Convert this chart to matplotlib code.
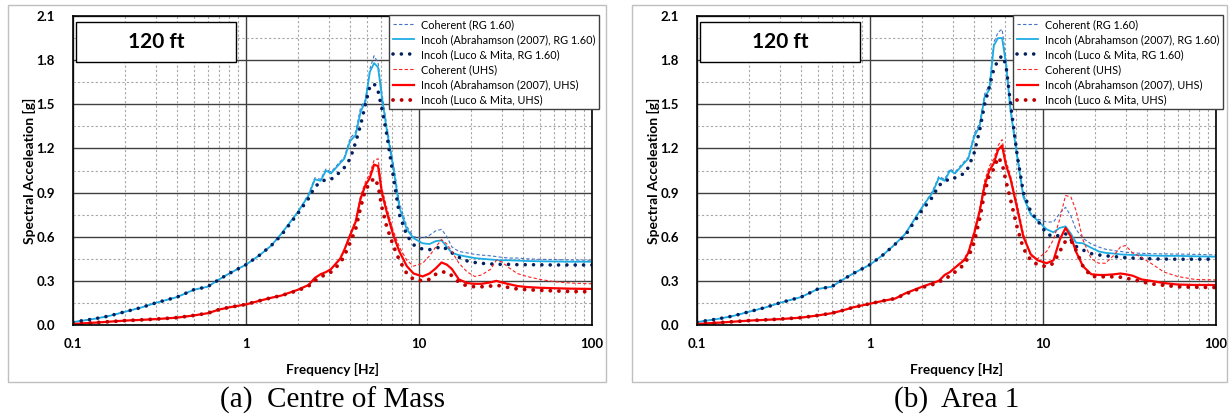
import matplotlib
matplotlib.use("Agg")
import matplotlib.pyplot as plt
from matplotlib.patches import Rectangle
from matplotlib.ticker import FixedLocator, NullFormatter

plt.rcParams["font.family"] = ["Lato", "DejaVu Sans"]

# frequency grid [Hz] shared by every series
freq = [0.1, 0.13, 0.16, 0.2, 0.25, 0.3, 0.4, 0.5, 0.6, 0.7, 0.8, 1.0, 1.2, 1.4, 1.6,
        2.0, 2.3, 2.5, 2.7, 2.9, 3.1, 3.5, 3.7, 4.0, 4.3, 4.6, 4.9, 5.2, 5.5, 5.8,
        6.1, 6.5, 7.1, 7.7, 8.5, 9.3, 10.5, 11.5, 12.5, 13.5, 14.5, 15.5, 17, 19,
        21, 23, 26, 28, 30, 33, 37, 42, 50, 60, 75, 100]

# ---- (a) Centre of Mass ----
a_coh_rg = [0.02, 0.04, 0.06, 0.09, 0.12, 0.15, 0.19, 0.24, 0.26, 0.31, 0.35, 0.41, 0.475, 0.54, 0.62,
            0.77, 0.89, 1.0, 0.99, 1.06, 1.04, 1.11, 1.14, 1.27, 1.31, 1.48, 1.53, 1.74, 1.83, 1.78,
            1.58, 1.36, 1.10, 0.83, 0.67, 0.60, 0.59, 0.61, 0.64, 0.65, 0.60, 0.53, 0.50, 0.49,
            0.48, 0.475, 0.47, 0.465, 0.46, 0.455, 0.455, 0.45, 0.446, 0.445, 0.442, 0.44]
a_abr_rg = [0.02, 0.04, 0.06, 0.09, 0.12, 0.15, 0.19, 0.24, 0.26, 0.31, 0.35, 0.41, 0.475, 0.54, 0.62,
            0.77, 0.88, 0.99, 0.98, 1.05, 1.03, 1.10, 1.13, 1.25, 1.29, 1.45, 1.52, 1.72, 1.78, 1.75,
            1.55, 1.33, 1.07, 0.80, 0.65, 0.59, 0.555, 0.55, 0.57, 0.575, 0.53, 0.49, 0.475, 0.464,
            0.455, 0.45, 0.445, 0.442, 0.44, 0.44, 0.438, 0.435, 0.433, 0.432, 0.43, 0.43]
a_luco_rg = [0.02, 0.04, 0.06, 0.09, 0.12, 0.15, 0.19, 0.24, 0.26, 0.31, 0.35, 0.41, 0.475, 0.54, 0.61,
             0.76, 0.86, 0.94, 0.97, 0.99, 0.99, 1.04, 1.07, 1.13, 1.24, 1.36, 1.50, 1.62, 1.64, 1.59,
             1.47, 1.30, 1.01, 0.75, 0.61, 0.545, 0.515, 0.512, 0.52, 0.535, 0.515, 0.49, 0.46, 0.435,
             0.425, 0.419, 0.415, 0.413, 0.412, 0.412, 0.41, 0.41, 0.409, 0.408, 0.408, 0.408]
a_coh_uhs = [0.007, 0.015, 0.022, 0.03, 0.035, 0.04, 0.05, 0.065, 0.08, 0.105, 0.12, 0.14, 0.165, 0.185, 0.20,
             0.24, 0.272, 0.32, 0.345, 0.36, 0.38, 0.45, 0.51, 0.62, 0.71, 0.88, 0.97, 1.03, 1.12, 1.13,
             0.93, 0.80, 0.64, 0.53, 0.44, 0.40, 0.42, 0.47, 0.53, 0.58, 0.55, 0.50, 0.42, 0.36,
             0.33, 0.34, 0.38, 0.44, 0.43, 0.39, 0.35, 0.33, 0.31, 0.295, 0.285, 0.28]
a_abr_uhs = [0.007, 0.015, 0.022, 0.03, 0.035, 0.04, 0.05, 0.065, 0.08, 0.105, 0.12, 0.14, 0.165, 0.185, 0.20,
             0.24, 0.272, 0.32, 0.345, 0.36, 0.38, 0.45, 0.51, 0.61, 0.70, 0.86, 0.95, 1.0, 1.09, 1.08,
             0.90, 0.77, 0.61, 0.50, 0.40, 0.35, 0.33, 0.35, 0.385, 0.425, 0.41, 0.38, 0.31, 0.285,
             0.28, 0.28, 0.29, 0.30, 0.29, 0.278, 0.265, 0.258, 0.253, 0.25, 0.247, 0.245]
a_luco_uhs = [0.007, 0.015, 0.022, 0.03, 0.035, 0.04, 0.05, 0.065, 0.08, 0.105, 0.12, 0.14, 0.165, 0.185, 0.20,
              0.235, 0.265, 0.30, 0.33, 0.34, 0.36, 0.42, 0.47, 0.56, 0.65, 0.80, 0.92, 0.96, 1.00, 0.95,
              0.80, 0.67, 0.54, 0.44, 0.35, 0.31, 0.30, 0.31, 0.345, 0.36, 0.36, 0.335, 0.29, 0.265,
              0.26, 0.26, 0.265, 0.27, 0.265, 0.255, 0.245, 0.24, 0.236, 0.232, 0.228, 0.226]

# ---- (b) Area 1 ----
b_coh_rg = [0.02, 0.04, 0.06, 0.09, 0.12, 0.15, 0.19, 0.245, 0.26, 0.31, 0.35, 0.41, 0.48, 0.55, 0.62,
            0.80, 0.91, 1.01, 0.99, 1.06, 1.04, 1.11, 1.14, 1.30, 1.37, 1.57, 1.63, 1.92, 1.99, 2.01,
            1.82, 1.48, 1.17, 0.89, 0.76, 0.72, 0.70, 0.70, 0.76, 0.80, 0.74, 0.65, 0.59, 0.55,
            0.53, 0.515, 0.505, 0.50, 0.495, 0.49, 0.487, 0.485, 0.483, 0.482, 0.48, 0.476]
b_abr_rg = [0.02, 0.04, 0.06, 0.09, 0.12, 0.15, 0.19, 0.245, 0.26, 0.31, 0.35, 0.41, 0.48, 0.55, 0.62,
            0.80, 0.90, 1.0, 0.98, 1.05, 1.03, 1.10, 1.13, 1.28, 1.35, 1.55, 1.60, 1.90, 1.95, 1.95,
            1.78, 1.45, 1.14, 0.87, 0.75, 0.71, 0.65, 0.63, 0.66, 0.67, 0.62, 0.56, 0.555, 0.525,
            0.50, 0.49, 0.485, 0.48, 0.478, 0.476, 0.475, 0.472, 0.47, 0.47, 0.467, 0.464]
b_luco_rg = [0.02, 0.04, 0.06, 0.09, 0.12, 0.15, 0.19, 0.245, 0.26, 0.31, 0.35, 0.41, 0.48, 0.55, 0.61,
             0.78, 0.87, 0.95, 0.97, 1.0, 1.0, 1.03, 1.07, 1.17, 1.32, 1.50, 1.62, 1.74, 1.80, 1.83,
             1.77, 1.50, 1.15, 0.90, 0.77, 0.71, 0.62, 0.60, 0.61, 0.62, 0.58, 0.535, 0.51, 0.485,
             0.476, 0.47, 0.465, 0.46, 0.458, 0.455, 0.453, 0.45, 0.448, 0.447, 0.447, 0.447]
b_coh_uhs = [0.007, 0.015, 0.022, 0.03, 0.035, 0.04, 0.05, 0.065, 0.08, 0.10, 0.12, 0.145, 0.165, 0.18, 0.215,
             0.26, 0.285, 0.30, 0.34, 0.36, 0.39, 0.45, 0.50, 0.64, 0.79, 0.98, 1.08, 1.13, 1.22, 1.26,
             1.12, 1.01, 0.82, 0.62, 0.47, 0.45, 0.50, 0.58, 0.72, 0.88, 0.87, 0.78, 0.58, 0.45,
             0.42, 0.42, 0.48, 0.53, 0.54, 0.49, 0.46, 0.42, 0.36, 0.33, 0.31, 0.306]
b_abr_uhs = [0.007, 0.015, 0.022, 0.03, 0.035, 0.04, 0.05, 0.065, 0.08, 0.10, 0.12, 0.145, 0.165, 0.18, 0.215,
             0.26, 0.285, 0.30, 0.34, 0.36, 0.39, 0.44, 0.49, 0.62, 0.77, 0.95, 1.05, 1.10, 1.19, 1.22,
             1.09, 0.99, 0.79, 0.60, 0.48, 0.44, 0.42, 0.44, 0.58, 0.66, 0.60, 0.50, 0.40, 0.345,
             0.34, 0.34, 0.345, 0.35, 0.345, 0.335, 0.31, 0.30, 0.285, 0.275, 0.272, 0.272]
b_luco_uhs = [0.007, 0.015, 0.022, 0.03, 0.035, 0.04, 0.05, 0.065, 0.08, 0.10, 0.12, 0.145, 0.165, 0.18, 0.21,
              0.255, 0.275, 0.29, 0.32, 0.33, 0.36, 0.41, 0.46, 0.56, 0.72, 0.90, 1.02, 1.06, 1.14, 1.10,
              0.98, 0.85, 0.66, 0.52, 0.44, 0.41, 0.396, 0.42, 0.50, 0.57, 0.575, 0.51, 0.40, 0.33,
              0.328, 0.328, 0.328, 0.325, 0.318, 0.31, 0.295, 0.28, 0.27, 0.26, 0.257, 0.255]

labels = ["Coherent (RG 1.60)", "Incoh (Abrahamson (2007), RG 1.60)", "Incoh (Luco & Mita, RG 1.60)",
          "Coherent (UHS)", "Incoh (Abrahamson (2007), UHS)", "Incoh (Luco & Mita, UHS)"]
yticks = [0.0, 0.3, 0.6, 0.9, 1.2, 1.5, 1.8, 2.1]
xticks = [0.1, 1, 10, 100]
xtick_labels = ["0.1", "1", "10", "100"]

styles = [
    dict(color="#4472C4", lw=0.8, ls=(0, (3, 2))),
    dict(color="#1CADE4", lw=1.3, ls="-"),
    dict(color="#002060", lw=2.6, ls=(0, (0.01, 2.3)), dash_capstyle="round"),
    dict(color="#FF2020", lw=0.8, ls=(0, (3, 2))),
    dict(color="#FF0000", lw=1.6, ls="-"),
    dict(color="#C00000", lw=2.8, ls=(0, (0.01, 2.2)), dash_capstyle="round"),
]

W, H = 1230, 417
fig = plt.figure(figsize=(W / 100, H / 100), dpi=100)

panels = [
    (73, [a_coh_rg, a_abr_rg, a_luco_rg, a_coh_uhs, a_abr_uhs, a_luco_uhs], "(a)  Centre of Mass", 8, 606),
    (697, [b_coh_rg, b_abr_rg, b_luco_rg, b_coh_uhs, b_abr_uhs, b_luco_uhs], "(b)  Area 1", 632, 1227),
]

for left_px, series, caption, box_l, box_r in panels:
    # grey frame around each chart
    fig.add_artist(Rectangle((box_l / W, 1 - 382 / H), (box_r - box_l) / W, 377 / H,
                             transform=fig.transFigure, fill=False, ec="#BFBFBF", lw=1.0))

    ax = fig.add_axes([left_px / W, 1 - 325 / H, 519 / W, 309 / H])
    for vals, lab, st in zip(series, labels, styles):
        ax.plot(freq, vals, label=lab, **st)

    ax.set_xscale("log")
    ax.set_xlim(0.1, 100)
    ax.set_ylim(0, 2.1)
    ax.xaxis.set_major_locator(FixedLocator(xticks))
    ax.set_xticklabels(xtick_labels)
    ax.xaxis.set_minor_locator(FixedLocator([m * d for d in [0.1, 1, 10] for m in range(2, 10)]))
    ax.xaxis.set_minor_formatter(NullFormatter())
    ax.set_yticks(yticks)
    ax.set_yticklabels([f"{v:.1f}" for v in yticks])
    ax.yaxis.set_minor_locator(FixedLocator([v + 0.15 for v in yticks[:-1]]))

    ax.grid(which="major", color="#404040", lw=1.0, ls="-")
    ax.grid(which="minor", color="#A6A6A6", lw=0.8, ls=(0, (2, 2)))
    ax.set_axisbelow(True)
    ax.tick_params(which="both", length=0)
    ax.tick_params(axis="y", pad=13, labelsize=9.5)
    ax.tick_params(axis="x", pad=9, labelsize=9.5)
    for t in ax.get_xticklabels() + ax.get_yticklabels():
        t.set_fontweight("bold")
    for sp in ax.spines.values():
        sp.set_color("black")
        sp.set_linewidth(1.2)

    ax.set_xlabel("Frequency [Hz]", fontsize=9.8, fontweight="bold", labelpad=10)
    ax.set_ylabel("Spectral Acceleation [g]", fontsize=10, fontweight="bold", labelpad=0)

    ax.add_patch(Rectangle((0.006, 0.851), 0.308, 0.129, transform=ax.transAxes,
                           fc="white", ec="black", lw=1.0, zorder=5))
    ax.text(0.16, 0.916, "120 ft", transform=ax.transAxes, ha="center", va="center",
            fontsize=15, fontweight="bold", zorder=6)

    leg = ax.legend(loc="upper right", bbox_to_anchor=(1.0135, 1.003), fontsize=7.8,
                    frameon=True, fancybox=False, edgecolor="#404040", framealpha=1,
                    handlelength=2.0, handletextpad=0.6, labelspacing=0.38,
                    borderpad=0.35, borderaxespad=0)
    leg.get_frame().set_linewidth(1.0)
    leg.set_zorder(10)

    fig.text((left_px + 259.5) / W, 1 - 400 / H, caption, ha="center", va="center",
             fontsize=21, family="Liberation Serif")

fig.savefig("out.png", dpi=100)
